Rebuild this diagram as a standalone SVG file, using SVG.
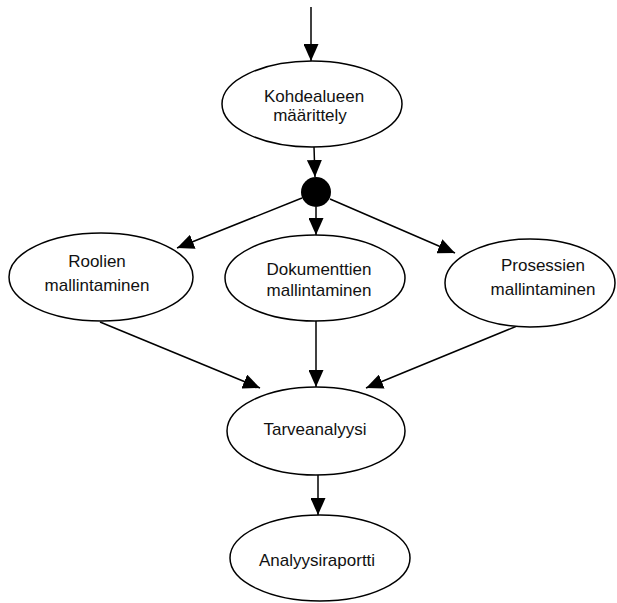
<svg xmlns="http://www.w3.org/2000/svg" width="617" height="603" viewBox="0 0 617 603">
  <style>
    .node ellipse { fill: #ffffff; stroke: #000000; stroke-width: 1.5; }
    .node text { font-family: "Liberation Sans", Arial, sans-serif; font-size: 17px; fill: #111111; text-anchor: middle; }
    .edge { stroke: #000000; stroke-width: 1.5; fill: none; marker-end: url(#arrow); }
  </style>
  <defs>
    <marker id="arrow" markerUnits="userSpaceOnUse" markerWidth="17" markerHeight="15" refX="17" refY="7.5" orient="auto">
      <path d="M0,0 L17,7.5 L0,15 z" fill="#000000"/>
    </marker>
  </defs>
  <rect width="617" height="603" fill="#ffffff"/>

  <g id="connectors">
    <line class="edge" x1="311" y1="7" x2="311" y2="61"/>
    <line class="edge" x1="314" y1="147" x2="315" y2="177"/>
    <line class="edge" x1="302" y1="198" x2="177" y2="248"/>
    <line class="edge" x1="316" y1="207" x2="316" y2="235"/>
    <line class="edge" x1="330" y1="199" x2="455" y2="253"/>
    <line class="edge" x1="100" y1="322" x2="260" y2="388"/>
    <line class="edge" x1="316" y1="321" x2="316" y2="387"/>
    <line class="edge" x1="522" y1="324" x2="366" y2="388"/>
    <line class="edge" x1="318" y1="475" x2="318" y2="515"/>
  </g>

  <g id="kohdealueen" class="node">
    <ellipse cx="312" cy="104" rx="90" ry="43"/>
    <text x="314" y="102">Kohdealueen</text>
    <text x="310" y="121">määrittely</text>
  </g>

  <g id="haara">
    <circle cx="316" cy="192" r="15" fill="#000000"/>
  </g>

  <g id="roolien" class="node">
    <ellipse cx="101" cy="277" rx="92" ry="44"/>
    <text x="97" y="267">Roolien</text>
    <text x="97" y="291">mallintaminen</text>
  </g>

  <g id="dokumenttien" class="node">
    <ellipse cx="315" cy="278" rx="90" ry="43"/>
    <text x="319" y="275">Dokumenttien</text>
    <text x="319" y="296">mallintaminen</text>
  </g>

  <g id="prosessien" class="node">
    <ellipse cx="530" cy="283" rx="85" ry="44"/>
    <text x="543" y="271">Prosessien</text>
    <text x="543" y="295">mallintaminen</text>
  </g>

  <g id="tarveanalyysi" class="node">
    <ellipse cx="316" cy="431" rx="89" ry="44"/>
    <text x="315" y="435">Tarveanalyysi</text>
  </g>

  <g id="analyysiraportti" class="node">
    <ellipse cx="320" cy="558" rx="90" ry="43"/>
    <text x="317" y="566">Analyysiraportti</text>
  </g>
</svg>
